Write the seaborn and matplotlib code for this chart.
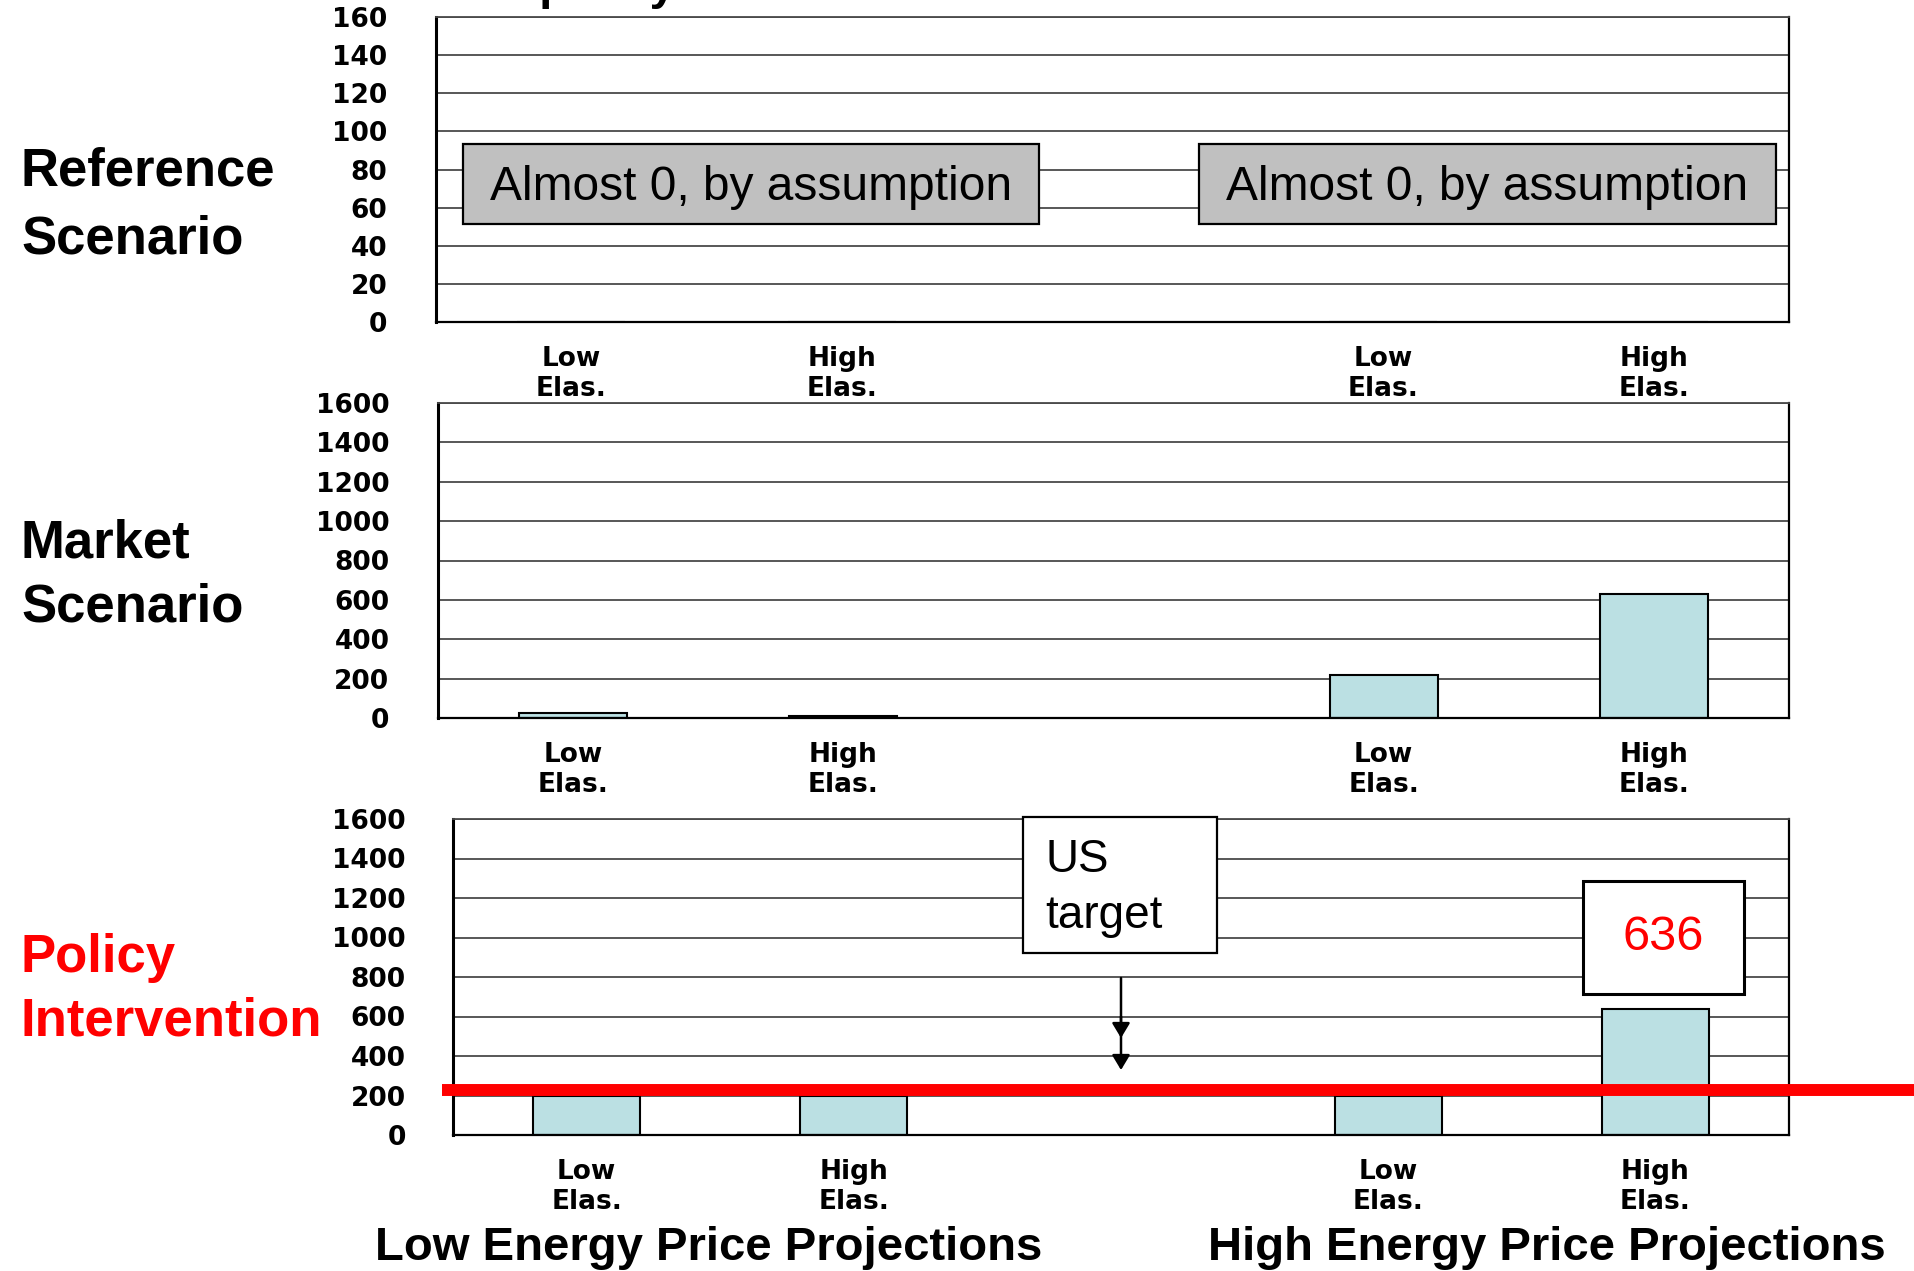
import numpy as np
import pandas as pd
import matplotlib
matplotlib.use("Agg")
import matplotlib.pyplot as plt
from matplotlib.patches import Rectangle
import seaborn as sns

# ---------------------------------------------------------------- data
slots = ["lo_price_lo_elas", "lo_price_hi_elas", "gap",
         "hi_price_lo_elas", "hi_price_hi_elas"]
tick_labels = ["Low\nElas.", "High\nElas.", "", "Low\nElas.", "High\nElas."]
bar_slots = ["lo_price_lo_elas", "lo_price_hi_elas",
             "hi_price_lo_elas", "hi_price_hi_elas"]

reference_values = [0, 0, 0, 0]
market_values = [25, 12, 220, 630]
policy_values = [200, 200, 200, 636]
us_target = 230

reference_yticks = [0, 20, 40, 60, 80, 100, 120, 140, 160]
impact_yticks = [0, 200, 400, 600, 800, 1000, 1200, 1400, 1600]

row_labels = [("Reference", "Scenario"), ("Market", "Scenario"),
              ("Policy", "Intervention")]
group_labels = ["Low Energy Price Projections", "High Energy Price Projections"]
note_text = "Almost 0, by assumption"
target_text = ("US", "target")
top_title = "Capacity"

# ---------------------------------------------------------------- style
W, H, DPI = 1915, 1271, 100
BAR = "#bbe0e3"
GRID = "#4a4a4a"
TICK_FONT = "DejaVu Sans"
TEXT_FONT = "Liberation Sans"

sns.set_style("white")
plt.rcParams["font.family"] = [TEXT_FONT, "DejaVu Sans"]

fig = plt.figure(figsize=(W / DPI, H / DPI), dpi=DPI)


def fx(px):
    return px / W


def fy(py):
    return 1 - py / H


def panel(left, top, right, bottom, values, yticks, tick_len, label_pad):
    ax = fig.add_axes([fx(left), fy(bottom), fx(right - left), (bottom - top) / H])
    df = pd.DataFrame({"slot": bar_slots, "value": values})
    sns.barplot(data=df, x="slot", y="value", order=slots, width=0.4,
                color=BAR, saturation=1, edgecolor="black", linewidth=1.5,
                errorbar=None, ax=ax)
    ax.set_xlim(-0.5, 4.5)
    ax.set_ylim(yticks[0], yticks[-1])
    ax.set_yticks(yticks)
    ax.set_yticklabels([str(t) for t in yticks])
    ax.set_xticks(range(len(slots)))
    ax.set_xticklabels(tick_labels, linespacing=1.2)
    ax.set_xticks(np.arange(-0.5, len(slots), 1.0), minor=True)
    ax.set_xlabel("")
    ax.set_ylabel("")
    ax.tick_params(axis="x", which="major", length=0, pad=17, labelsize=19,
                   labelcolor="black")
    ax.tick_params(axis="x", which="minor", length=7, width=2,
                   color="black", direction="out")
    ax.tick_params(axis="y", length=tick_len, width=1.3, color=GRID,
                   direction="out", pad=label_pad, labelsize=19,
                   labelcolor="black")
    for lab in ax.get_xticklabels() + ax.get_yticklabels():
        lab.set_fontfamily(TICK_FONT)
        lab.set_fontweight("bold")
        lab.set_color("black")
    ax.yaxis.grid(True, color=GRID, linewidth=1.3)
    ax.set_axisbelow(True)
    ax.spines["left"].set_linewidth(2.2)
    ax.spines["left"].set_color("black")
    ax.spines["bottom"].set_linewidth(1.6)
    ax.spines["bottom"].set_color("black")
    ax.spines["right"].set_linewidth(1.6)
    ax.spines["right"].set_color("black")
    ax.spines["top"].set_linewidth(1.3)
    ax.spines["top"].set_color(GRID)
    return ax


ax1 = panel(436, 17, 1789, 322, reference_values, reference_yticks, 14, 21)
ax2 = panel(438, 403, 1789, 718, market_values, impact_yticks, 14, 21)
ax3 = panel(453, 819, 1789, 1135, policy_values, impact_yticks, 21, 13)

# ---------------------------------------------------------------- notes in the reference panel
for x0, x1 in [(-0.40, 1.728), (2.32, 4.452)]:
    ax1.add_patch(Rectangle((x0, 51.4), x1 - x0, 42.0, facecolor="#c0c0c0",
                            edgecolor="black", linewidth=1.6, zorder=4))
    ax1.text((x0 + x1) / 2, 70.5, note_text, ha="center", va="center",
             fontsize=34.5, family=TEXT_FONT, color="black", zorder=5)

# ---------------------------------------------------------------- policy panel annotations
ax3.axhline(us_target, xmin=-0.008, xmax=1.1, color="red", linewidth=8.6,
            solid_capstyle="butt", clip_on=False, zorder=6)

ax3.add_patch(Rectangle((1.633, 919), 2.359 - 1.633, 1610 - 919,
                        facecolor="white", edgecolor="black", linewidth=1.6,
                        clip_on=False, zorder=4))
ax3.text(1.716, 1332, target_text[0], ha="left", va="baseline",
         fontsize=33, family=TEXT_FONT, color="black", zorder=5)
ax3.text(1.716, 1048, target_text[1], ha="left", va="baseline",
         fontsize=33, family=TEXT_FONT, color="black", zorder=5)

head = dict(arrowstyle="-|>,head_length=0.45,head_width=0.27",
            color="black", linewidth=1.8, mutation_scale=20,
            shrinkA=0, shrinkB=0)
ax3.annotate("", xy=(2, 329), xytext=(2, 795), arrowprops=head, zorder=5)
ax3.annotate("", xy=(2, 491), xytext=(2, 600), arrowprops=head, zorder=5)

top_bar = policy_values[-1]
ax3.add_patch(Rectangle((3.729, 716), 4.332 - 3.729, 1285 - 716,
                        facecolor="white", edgecolor="black", linewidth=2.2,
                        zorder=4))
ax3.text(4.03, 1000, f"{top_bar:.0f}", ha="center", va="center",
         fontsize=35, family=TEXT_FONT, color="red", zorder=5)

# ---------------------------------------------------------------- row and group labels
row_baselines = [(186, 253), (557, 622), (972, 1035)]
row_sizes = [38, 38, 38]
row_colors = ["black", "black", "red"]
for (l1, l2), (b1, b2), size, col in zip(row_labels, row_baselines, row_sizes, row_colors):
    fig.text(fx(21), fy(b1), l1, ha="left", va="baseline", fontsize=size,
             fontweight="bold", family=TEXT_FONT, color=col)
    fig.text(fx(21), fy(b2), l2, ha="left", va="baseline", fontsize=size,
             fontweight="bold", family=TEXT_FONT, color=col)

for label, cx in zip(group_labels, [709, 1547]):
    fig.text(fx(cx), fy(1260), label, ha="center", va="baseline", fontsize=34,
             fontweight="bold", family=TEXT_FONT, color="black")

fig.text(fx(479), fy(-1), top_title, ha="left", va="baseline", fontsize=34,
         fontweight="bold", family=TEXT_FONT, color="black")

fig.savefig("out.png", dpi=DPI)
